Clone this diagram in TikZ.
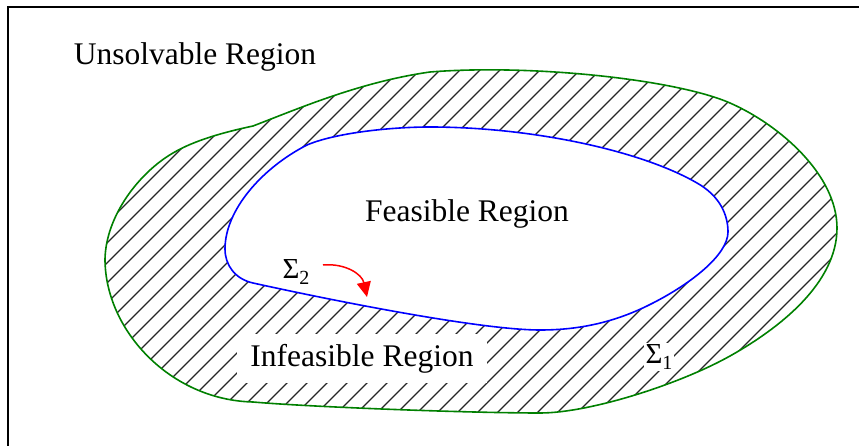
\documentclass[tikz,border=0pt]{standalone}
\usepackage{fontspec}
\setmainfont{Liberation Serif}
\usetikzlibrary{arrows.meta}
\definecolor{dkgreen}{RGB}{0,128,0}
\newcommand{\sigsub}[1]{Σ\raisebox{-6pt}{\fontsize{20}{22}\selectfont #1}}
\begin{document}
\begin{tikzpicture}[x=1pt,y=-1pt,
  lbl/.style={font=\fontsize{31.5}{36}\selectfont, inner sep=0pt},
  sig/.style={font=\fontsize{29}{34}\selectfont, inner sep=1.5pt},
  hatch/.style={black!85, line width=1.25pt},
  outerline/.style={dkgreen, line width=1.6pt},
  innerline/.style={blue, line width=1.6pt},
  frame/.style={black, line width=2pt}]
\useasboundingbox (0,0) rectangle (859,446);
\def\outerpath{(253,126) .. controls (300,108) and (360,82) .. (430,72)
  .. controls (530,64) and (675,79) .. (730,103)
  .. controls (780,125) and (837,175) .. (837,228)
  .. controls (837,283) and (780,328) .. (730,356)
  .. controls (680,384) and (590,413) .. (540,413)
  .. controls (470,413) and (310,407) .. (253,402)
  .. controls (170,400) and (105,330) .. (105,259)
  .. controls (106,215) and (140,172) .. (173,153)
  .. controls (195,140) and (225,132) .. (253,126) -- cycle}
\def\innerpath{(225,249) .. controls (225,210) and (262,168) .. (307,145)
  .. controls (335,133) and (390,127) .. (430,127)
  .. controls (530,127) and (640,150) .. (697,183)
  .. controls (720,196) and (728,215) .. (728,232)
  .. controls (728,255) and (690,285) .. (647,306)
  .. controls (610,324) and (575,330) .. (540,330)
  .. controls (480,330) and (330,300) .. (253,283)
  .. controls (235,279) and (225,265) .. (225,249) -- cycle}
% frame
\draw[frame] (8,446) -- (8,7) -- (859,7);
% hatching
\begin{scope}
  \clip \outerpath;
  \foreach \c in {0,20,...,1320} {
    \draw[hatch] (\c,-10) -- ++(-470,470);
  }
\end{scope}
% feasible interior
\fill[white] \innerpath;
\draw[innerline] \innerpath;
\draw[outerline] \outerpath;
% labels
\node[lbl, anchor=base] (unsolv) at (195,65) {Unsolvable Region};
\node[lbl, anchor=base] (feas) at (467,222) {Feasible Region};
\node[lbl, fill=white, minimum width=250pt, minimum height=49pt] (infeas) at (362,358.5) {Infeasible Region};
\node[sig, fill=white] (s1) at (659,357) {\sigsub{1}};
\node[sig] (s2) at (296,272) {\sigsub{2}};
% arrow
\coordinate (a0) at (323,265);
\coordinate (a1) at (367,297);
\draw[red, line width=1.5pt, -{Triangle[length=15pt,width=14pt]}] (a0) .. controls (345,263) and (362,274) .. (a1);
\end{tikzpicture}
\end{document}
